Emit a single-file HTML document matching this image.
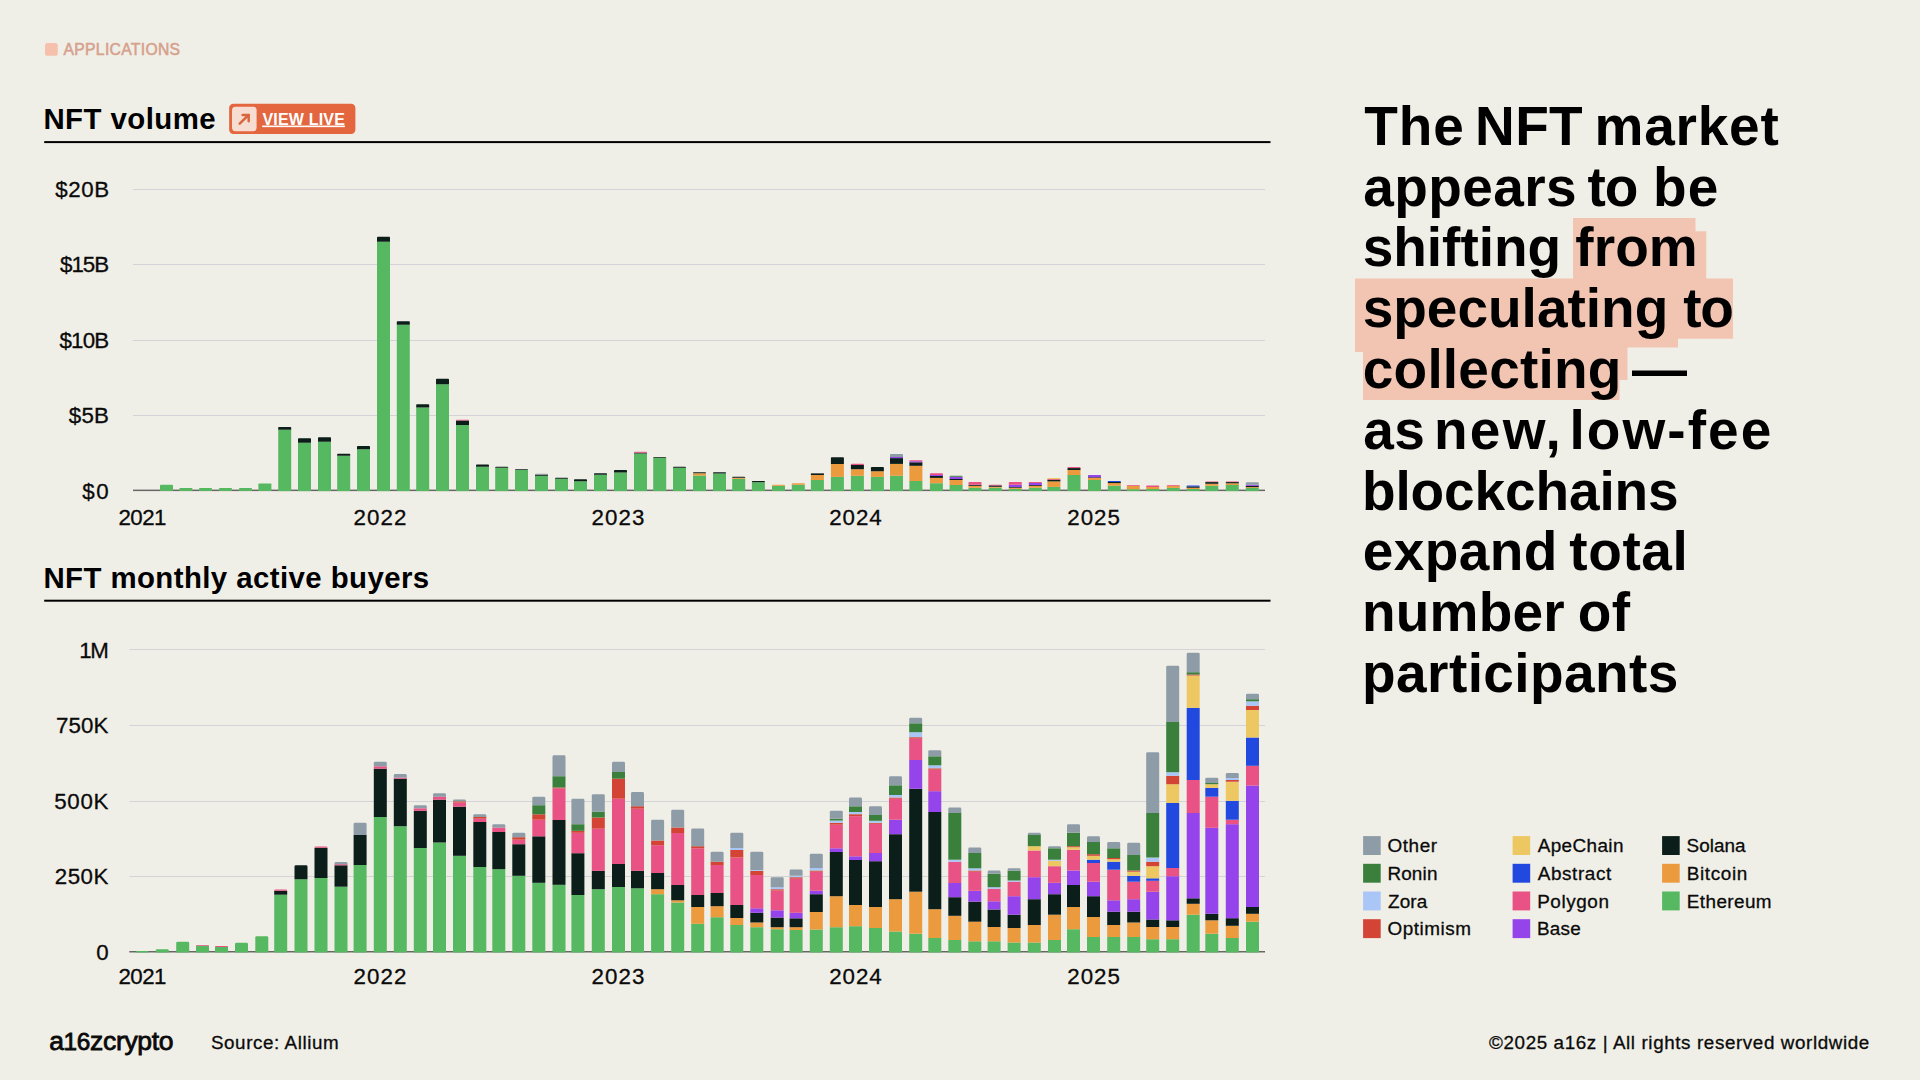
<!DOCTYPE html><html lang='en'><head><meta charset='utf-8'><title>NFT market</title><style>
html,body{margin:0;padding:0;background:#f0efe7;}
body{width:1920px;height:1080px;position:relative;overflow:hidden;font-family:"Liberation Sans",sans-serif;}
.chart{position:absolute;left:0;top:0;}
.t{position:absolute;white-space:pre;margin:0;}
</style></head><body>
<svg class='chart' width='1920' height='1080' viewBox='0 0 1920 1080'>
<path fill='#f2c5b3' d='M1573 218H1695.5V231.25H1706.25V278.5H1733V338.75H1678V347.5H1627.5V380H1619.5V400H1363V352H1355V278.5H1573Z'/>
<rect x='133' y='189' width='1132' height='1' fill='#d3d3d8'/>
<rect x='133' y='264' width='1132' height='1' fill='#d3d3d8'/>
<rect x='133' y='340' width='1132' height='1' fill='#d3d3d8'/>
<rect x='133' y='415' width='1132' height='1' fill='#d3d3d8'/>
<rect x='129.3' y='649' width='1135.7' height='1' fill='#d3d3d8'/>
<rect x='129.3' y='725' width='1135.7' height='1' fill='#d3d3d8'/>
<rect x='129.3' y='801' width='1135.7' height='1' fill='#d3d3d8'/>
<rect x='129.3' y='876' width='1135.7' height='1' fill='#d3d3d8'/>
<rect x='133' y='489.6' width='1132' height='1.5' fill='#6a6668'/>
<rect x='129.3' y='951.0' width='1135.7' height='1.5' fill='#6a6668'/>
<g id='bars-top'><path d='M160.00 491.10V485.50Q160.00 484.70 160.80 484.70H172.20Q173.00 484.70 173.00 485.50V491.10Z' fill='#57b862'/>
<path d='M179.40 491.10V488.80Q179.40 488.00 180.20 488.00H191.60Q192.40 488.00 192.40 488.80V491.10Z' fill='#57b862'/>
<path d='M199.00 491.10V488.80Q199.00 488.00 199.80 488.00H211.20Q212.00 488.00 212.00 488.80V491.10Z' fill='#57b862'/>
<path d='M219.00 491.10V488.80Q219.00 488.00 219.80 488.00H231.20Q232.00 488.00 232.00 488.80V491.10Z' fill='#57b862'/>
<path d='M239.00 491.10V488.80Q239.00 488.00 239.80 488.00H251.20Q252.00 488.00 252.00 488.80V491.10Z' fill='#57b862'/>
<path d='M258.40 491.10V484.30Q258.40 483.50 259.20 483.50H270.60Q271.40 483.50 271.40 484.30V491.10Z' fill='#57b862'/>
<rect x='278.20' y='429.70' width='13' height='61.40' fill='#57b862'/>
<path d='M278.20 429.70V427.80Q278.20 427.00 279.00 427.00H290.40Q291.20 427.00 291.20 427.80V429.70Z' fill='#0c1e1a'/>
<rect x='298.00' y='442.70' width='13' height='48.40' fill='#57b862'/>
<path d='M298.00 442.70V439.00Q298.00 438.20 298.80 438.20H310.20Q311.00 438.20 311.00 439.00V442.70Z' fill='#0c1e1a'/>
<rect x='318.00' y='441.70' width='13' height='49.40' fill='#57b862'/>
<path d='M318.00 441.70V438.00Q318.00 437.20 318.80 437.20H330.20Q331.00 437.20 331.00 438.00V441.70Z' fill='#0c1e1a'/>
<rect x='337.20' y='455.70' width='13' height='35.40' fill='#57b862'/>
<path d='M337.20 455.70V454.50Q337.20 453.70 338.00 453.70H349.40Q350.20 453.70 350.20 454.50V455.70Z' fill='#0c1e1a'/>
<rect x='357.00' y='449.20' width='13' height='41.90' fill='#57b862'/>
<path d='M357.00 449.20V446.80Q357.00 446.00 357.80 446.00H369.20Q370.00 446.00 370.00 446.80V449.20Z' fill='#0c1e1a'/>
<rect x='377.00' y='241.80' width='13' height='249.30' fill='#57b862'/>
<path d='M377.00 241.80V237.50Q377.00 236.70 377.80 236.70H389.20Q390.00 236.70 390.00 237.50V241.80Z' fill='#0c1e1a'/>
<rect x='396.80' y='324.70' width='13' height='166.40' fill='#57b862'/>
<path d='M396.80 324.70V322.00Q396.80 321.20 397.60 321.20H409.00Q409.80 321.20 409.80 322.00V324.70Z' fill='#0c1e1a'/>
<rect x='416.20' y='407.50' width='13' height='83.60' fill='#57b862'/>
<path d='M416.20 407.50V405.00Q416.20 404.20 417.00 404.20H428.40Q429.20 404.20 429.20 405.00V407.50Z' fill='#0c1e1a'/>
<rect x='436.00' y='384.20' width='13' height='106.90' fill='#57b862'/>
<path d='M436.00 384.20V379.50Q436.00 378.70 436.80 378.70H448.20Q449.00 378.70 449.00 379.50V384.20Z' fill='#0c1e1a'/>
<rect x='456.00' y='425.00' width='13' height='66.10' fill='#57b862'/>
<rect x='456.00' y='420.50' width='13' height='4.50' fill='#0c1e1a'/>
<path d='M456.00 420.50V420.50Q456.00 419.70 456.80 419.70H468.20Q469.00 419.70 469.00 420.50V420.50Z' fill='#e85285'/>
<rect x='476.00' y='466.80' width='13' height='24.30' fill='#57b862'/>
<path d='M476.00 466.80V465.30Q476.00 464.50 476.80 464.50H488.20Q489.00 464.50 489.00 465.30V466.80Z' fill='#0c1e1a'/>
<rect x='495.20' y='467.80' width='13' height='23.30' fill='#57b862'/>
<path d='M495.20 467.80V467.60Q495.20 466.80 496.00 466.80H507.40Q508.20 466.80 508.20 467.60V467.80Z' fill='#0c1e1a'/>
<rect x='515.00' y='470.00' width='13' height='21.10' fill='#57b862'/>
<path d='M515.00 470.00V470.00Q515.00 469.20 515.80 469.20H527.20Q528.00 469.20 528.00 470.00V470.00Z' fill='#0c1e1a'/>
<rect x='535.00' y='475.80' width='13' height='15.30' fill='#57b862'/>
<rect x='535.00' y='474.60' width='13' height='1.20' fill='#0c1e1a'/>
<path d='M535.00 474.60V474.60Q535.00 473.80 535.80 473.80H547.20Q548.00 473.80 548.00 474.60V474.60Z' fill='#8d9ca6'/>
<rect x='555.00' y='478.70' width='13' height='12.40' fill='#57b862'/>
<path d='M555.00 478.70V478.60Q555.00 477.80 555.80 477.80H567.20Q568.00 477.80 568.00 478.60V478.70Z' fill='#0c1e1a'/>
<rect x='574.00' y='481.20' width='13' height='9.90' fill='#57b862'/>
<path d='M574.00 481.20V480.00Q574.00 479.20 574.80 479.20H586.20Q587.00 479.20 587.00 480.00V481.20Z' fill='#0c1e1a'/>
<rect x='594.00' y='474.70' width='13' height='16.40' fill='#57b862'/>
<path d='M594.00 474.70V474.10Q594.00 473.30 594.80 473.30H606.20Q607.00 473.30 607.00 474.10V474.70Z' fill='#0c1e1a'/>
<rect x='614.00' y='472.50' width='13' height='18.60' fill='#57b862'/>
<path d='M614.00 472.50V470.80Q614.00 470.00 614.80 470.00H626.20Q627.00 470.00 627.00 470.80V472.50Z' fill='#0c1e1a'/>
<rect x='634.00' y='453.50' width='13' height='37.60' fill='#57b862'/>
<rect x='634.00' y='452.70' width='13' height='0.80' fill='#0c1e1a'/>
<path d='M634.00 452.70V452.50Q634.00 451.70 634.80 451.70H646.20Q647.00 451.70 647.00 452.50V452.70Z' fill='#e85285'/>
<rect x='653.20' y='457.80' width='13' height='33.30' fill='#57b862'/>
<path d='M653.20 457.80V457.80Q653.20 457.00 654.00 457.00H665.40Q666.20 457.00 666.20 457.80V457.80Z' fill='#0c1e1a'/>
<rect x='673.00' y='467.70' width='13' height='23.40' fill='#57b862'/>
<path d='M673.00 467.70V467.60Q673.00 466.80 673.80 466.80H685.20Q686.00 466.80 686.00 467.60V467.70Z' fill='#0c1e1a'/>
<rect x='693.00' y='475.50' width='13' height='15.60' fill='#57b862'/>
<rect x='693.00' y='473.30' width='13' height='2.20' fill='#ec9a3e'/>
<path d='M693.00 473.30V473.00Q693.00 472.20 693.80 472.20H705.20Q706.00 472.20 706.00 473.00V473.30Z' fill='#0c1e1a'/>
<rect x='713.00' y='473.50' width='13' height='17.60' fill='#57b862'/>
<path d='M713.00 473.50V473.00Q713.00 472.20 713.80 472.20H725.20Q726.00 472.20 726.00 473.00V473.50Z' fill='#0c1e1a'/>
<rect x='732.20' y='478.80' width='13' height='12.30' fill='#57b862'/>
<rect x='732.20' y='477.70' width='13' height='1.10' fill='#ec9a3e'/>
<path d='M732.20 477.70V477.60Q732.20 476.80 733.00 476.80H744.40Q745.20 476.80 745.20 477.60V477.70Z' fill='#0c1e1a'/>
<rect x='751.90' y='482.30' width='13' height='8.80' fill='#57b862'/>
<path d='M751.90 482.30V481.80Q751.90 481.00 752.70 481.00H764.10Q764.90 481.00 764.90 481.80V482.30Z' fill='#0c1e1a'/>
<rect x='772.00' y='485.70' width='13' height='5.40' fill='#57b862'/>
<path d='M772.00 485.70V485.50Q772.00 484.70 772.80 484.70H784.20Q785.00 484.70 785.00 485.50V485.70Z' fill='#ec9a3e'/>
<rect x='791.80' y='484.70' width='13' height='6.40' fill='#57b862'/>
<path d='M791.80 484.70V484.10Q791.80 483.30 792.60 483.30H804.00Q804.80 483.30 804.80 484.10V484.70Z' fill='#ec9a3e'/>
<rect x='810.90' y='480.00' width='13' height='11.10' fill='#57b862'/>
<rect x='810.90' y='475.00' width='13' height='5.00' fill='#ec9a3e'/>
<rect x='810.90' y='473.30' width='13' height='1.70' fill='#0c1e1a'/>
<path d='M810.90 473.30V473.30Q810.90 472.90 811.30 472.90H823.50Q823.90 472.90 823.90 473.30V473.30Z' fill='#8d9ca6'/>
<rect x='830.90' y='476.90' width='13' height='14.20' fill='#57b862'/>
<rect x='830.90' y='463.90' width='13' height='13.00' fill='#ec9a3e'/>
<path d='M830.90 463.90V458.10Q830.90 457.30 831.70 457.30H843.10Q843.90 457.30 843.90 458.10V463.90Z' fill='#0c1e1a'/>
<rect x='850.90' y='475.80' width='13' height='15.30' fill='#57b862'/>
<rect x='850.90' y='469.20' width='13' height='6.60' fill='#ec9a3e'/>
<rect x='850.90' y='465.00' width='13' height='4.20' fill='#0c1e1a'/>
<path d='M850.90 465.00V464.55Q850.90 463.75 851.70 463.75H863.10Q863.90 463.75 863.90 464.55V465.00Z' fill='#e85285'/>
<rect x='870.90' y='476.90' width='13' height='14.20' fill='#57b862'/>
<rect x='870.90' y='471.25' width='13' height='5.65' fill='#ec9a3e'/>
<path d='M870.90 471.25V467.90Q870.90 467.10 871.70 467.10H883.10Q883.90 467.10 883.90 467.90V471.25Z' fill='#0c1e1a'/>
<rect x='890.00' y='475.80' width='13' height='15.30' fill='#57b862'/>
<rect x='890.00' y='463.90' width='13' height='11.90' fill='#ec9a3e'/>
<rect x='890.00' y='458.10' width='13' height='5.80' fill='#0c1e1a'/>
<rect x='890.00' y='456.90' width='13' height='1.20' fill='#9444ea'/>
<path d='M890.00 456.90V454.80Q890.00 454.00 890.80 454.00H902.20Q903.00 454.00 903.00 454.80V456.90Z' fill='#8d9ca6'/>
<rect x='909.40' y='481.00' width='13' height='10.10' fill='#57b862'/>
<rect x='909.40' y='465.80' width='13' height='15.20' fill='#ec9a3e'/>
<rect x='909.40' y='462.30' width='13' height='3.50' fill='#0c1e1a'/>
<rect x='909.40' y='461.25' width='13' height='1.05' fill='#9444ea'/>
<path d='M909.40 461.25V461.05Q909.40 460.25 910.20 460.25H921.60Q922.40 460.25 922.40 461.05V461.25Z' fill='#e85285'/>
<rect x='929.90' y='483.20' width='13' height='7.90' fill='#57b862'/>
<rect x='929.90' y='477.90' width='13' height='5.30' fill='#ec9a3e'/>
<rect x='929.90' y='476.00' width='13' height='1.90' fill='#0c1e1a'/>
<rect x='929.90' y='475.00' width='13' height='1.00' fill='#9444ea'/>
<path d='M929.90 475.00V474.10Q929.90 473.30 930.70 473.30H942.10Q942.90 473.30 942.90 474.10V475.00Z' fill='#e85285'/>
<rect x='949.60' y='485.00' width='13' height='6.10' fill='#57b862'/>
<rect x='949.60' y='480.00' width='13' height='5.00' fill='#ec9a3e'/>
<rect x='949.60' y='479.00' width='13' height='1.00' fill='#0c1e1a'/>
<rect x='949.60' y='476.80' width='13' height='2.20' fill='#9444ea'/>
<path d='M949.60 476.80V476.60Q949.60 475.80 950.40 475.80H961.80Q962.60 475.80 962.60 476.60V476.80Z' fill='#3a803c'/>
<rect x='968.50' y='487.75' width='13' height='3.35' fill='#57b862'/>
<rect x='968.50' y='485.80' width='13' height='1.95' fill='#ec9a3e'/>
<rect x='968.50' y='484.80' width='13' height='1.00' fill='#0c1e1a'/>
<path d='M968.50 484.80V482.70Q968.50 481.90 969.30 481.90H980.70Q981.50 481.90 981.50 482.70V484.80Z' fill='#e85285'/>
<rect x='988.80' y='487.75' width='13' height='3.35' fill='#57b862'/>
<rect x='988.80' y='486.80' width='13' height='0.95' fill='#ec9a3e'/>
<rect x='988.80' y='485.40' width='13' height='1.40' fill='#0c1e1a'/>
<path d='M988.80 485.40V485.40Q988.80 484.75 989.45 484.75H1001.15Q1001.80 484.75 1001.80 485.40V485.40Z' fill='#e85285'/>
<rect x='1008.80' y='488.90' width='13' height='2.20' fill='#57b862'/>
<rect x='1008.80' y='487.70' width='13' height='1.20' fill='#ec9a3e'/>
<rect x='1008.80' y='487.00' width='13' height='0.70' fill='#0c1e1a'/>
<rect x='1008.80' y='484.75' width='13' height='2.25' fill='#9444ea'/>
<path d='M1008.80 484.75V482.70Q1008.80 481.90 1009.60 481.90H1021.00Q1021.80 481.90 1021.80 482.70V484.75Z' fill='#e85285'/>
<rect x='1028.80' y='487.75' width='13' height='3.35' fill='#57b862'/>
<rect x='1028.80' y='485.80' width='13' height='1.95' fill='#ec9a3e'/>
<rect x='1028.80' y='485.00' width='13' height='0.80' fill='#0c1e1a'/>
<rect x='1028.80' y='482.90' width='13' height='2.10' fill='#9444ea'/>
<path d='M1028.80 482.90V482.70Q1028.80 481.90 1029.60 481.90H1041.00Q1041.80 481.90 1041.80 482.70V482.90Z' fill='#e85285'/>
<rect x='1047.40' y='486.90' width='13' height='4.20' fill='#57b862'/>
<rect x='1047.40' y='481.40' width='13' height='5.50' fill='#ec9a3e'/>
<rect x='1047.40' y='479.80' width='13' height='1.60' fill='#0c1e1a'/>
<rect x='1047.40' y='479.00' width='13' height='0.80' fill='#e85285'/>
<path d='M1047.40 479.00V478.70Q1047.40 477.90 1048.20 477.90H1059.60Q1060.40 477.90 1060.40 478.70V479.00Z' fill='#edc862'/>
<rect x='1067.50' y='475.00' width='13' height='16.10' fill='#57b862'/>
<rect x='1067.50' y='470.00' width='13' height='5.00' fill='#ec9a3e'/>
<rect x='1067.50' y='468.10' width='13' height='1.90' fill='#0c1e1a'/>
<path d='M1067.50 468.10V467.90Q1067.50 467.10 1068.30 467.10H1079.70Q1080.50 467.10 1080.50 467.90V468.10Z' fill='#e85285'/>
<rect x='1088.00' y='480.00' width='13' height='11.10' fill='#57b862'/>
<rect x='1088.00' y='477.90' width='13' height='2.10' fill='#ec9a3e'/>
<rect x='1088.00' y='477.25' width='13' height='0.65' fill='#0c1e1a'/>
<path d='M1088.00 477.25V475.80Q1088.00 475.00 1088.80 475.00H1100.20Q1101.00 475.00 1101.00 475.80V477.25Z' fill='#9444ea'/>
<rect x='1107.80' y='485.70' width='13' height='5.40' fill='#57b862'/>
<rect x='1107.80' y='483.10' width='13' height='2.60' fill='#ec9a3e'/>
<rect x='1107.80' y='481.90' width='13' height='1.20' fill='#0c1e1a'/>
<path d='M1107.80 481.90V481.80Q1107.80 481.00 1108.60 481.00H1120.00Q1120.80 481.00 1120.80 481.80V481.90Z' fill='#2149df'/>
<rect x='1126.80' y='489.20' width='13' height='1.90' fill='#57b862'/>
<rect x='1126.80' y='485.80' width='13' height='3.40' fill='#ec9a3e'/>
<path d='M1126.80 485.80V485.80Q1126.80 485.00 1127.60 485.00H1139.00Q1139.80 485.00 1139.80 485.80V485.80Z' fill='#e85285'/>
<rect x='1146.20' y='489.00' width='13' height='2.10' fill='#57b862'/>
<rect x='1146.20' y='486.90' width='13' height='2.10' fill='#ec9a3e'/>
<path d='M1146.20 486.90V486.20Q1146.20 485.40 1147.00 485.40H1158.40Q1159.20 485.40 1159.20 486.20V486.90Z' fill='#e85285'/>
<rect x='1166.80' y='487.90' width='13' height='3.20' fill='#57b862'/>
<rect x='1166.80' y='485.80' width='13' height='2.10' fill='#ec9a3e'/>
<path d='M1166.80 485.80V485.80Q1166.80 485.00 1167.60 485.00H1179.00Q1179.80 485.00 1179.80 485.80V485.80Z' fill='#e85285'/>
<rect x='1186.60' y='489.00' width='13' height='2.10' fill='#57b862'/>
<rect x='1186.60' y='487.75' width='13' height='1.25' fill='#ec9a3e'/>
<rect x='1186.60' y='486.40' width='13' height='1.35' fill='#0c1e1a'/>
<path d='M1186.60 486.40V486.20Q1186.60 485.40 1187.40 485.40H1198.80Q1199.60 485.40 1199.60 486.20V486.40Z' fill='#2149df'/>
<rect x='1205.30' y='485.70' width='13' height='5.40' fill='#57b862'/>
<rect x='1205.30' y='483.75' width='13' height='1.95' fill='#ec9a3e'/>
<rect x='1205.30' y='482.10' width='13' height='1.65' fill='#0c1e1a'/>
<path d='M1205.30 482.10V482.10Q1205.30 481.40 1206.00 481.40H1217.60Q1218.30 481.40 1218.30 482.10V482.10Z' fill='#e85285'/>
<rect x='1225.80' y='485.00' width='13' height='6.10' fill='#57b862'/>
<rect x='1225.80' y='483.30' width='13' height='1.70' fill='#ec9a3e'/>
<rect x='1225.80' y='482.10' width='13' height='1.20' fill='#0c1e1a'/>
<path d='M1225.80 482.10V482.10Q1225.80 481.40 1226.50 481.40H1238.10Q1238.80 481.40 1238.80 482.10V482.10Z' fill='#e85285'/>
<rect x='1245.80' y='487.90' width='13' height='3.20' fill='#57b862'/>
<rect x='1245.80' y='487.10' width='13' height='0.80' fill='#ec9a3e'/>
<rect x='1245.80' y='485.80' width='13' height='1.30' fill='#0c1e1a'/>
<rect x='1245.80' y='484.75' width='13' height='1.05' fill='#9444ea'/>
<path d='M1245.80 484.75V483.10Q1245.80 482.30 1246.60 482.30H1258.00Q1258.80 482.30 1258.80 483.10V484.75Z' fill='#8d9ca6'/></g>
<g id='bars-bot'><path d='M135.80 952.50V952.40Q135.80 951.00 137.20 951.00H147.40Q148.80 951.00 148.80 952.40V952.50Z' fill='#57b862'/>
<path d='M155.80 952.50V950.60Q155.80 949.20 157.20 949.20H167.40Q168.80 949.20 168.80 950.60V952.50Z' fill='#57b862'/>
<path d='M176.20 952.50V943.10Q176.20 941.70 177.60 941.70H187.80Q189.20 941.70 189.20 943.10V952.50Z' fill='#57b862'/>
<rect x='196.00' y='945.80' width='13' height='6.70' fill='#57b862'/>
<path d='M196.00 945.80V945.80Q196.00 945.00 196.80 945.00H208.20Q209.00 945.00 209.00 945.80V945.80Z' fill='#e85285'/>
<rect x='215.00' y='947.00' width='13' height='5.50' fill='#57b862'/>
<path d='M215.00 947.00V947.00Q215.00 946.00 216.00 946.00H227.00Q228.00 946.00 228.00 947.00V947.00Z' fill='#e85285'/>
<path d='M235.00 952.50V944.20Q235.00 942.80 236.40 942.80H246.60Q248.00 942.80 248.00 944.20V952.50Z' fill='#57b862'/>
<path d='M255.30 952.50V937.60Q255.30 936.20 256.70 936.20H266.90Q268.30 936.20 268.30 937.60V952.50Z' fill='#57b862'/>
<rect x='274.20' y='894.70' width='13' height='57.80' fill='#57b862'/>
<rect x='274.20' y='890.80' width='13' height='3.90' fill='#0c1e1a'/>
<path d='M274.20 890.80V890.80Q274.20 889.50 275.50 889.50H285.90Q287.20 889.50 287.20 890.80V890.80Z' fill='#e85285'/>
<rect x='294.50' y='879.20' width='13' height='73.30' fill='#57b862'/>
<path d='M294.50 879.20V866.70Q294.50 865.30 295.90 865.30H306.10Q307.50 865.30 307.50 866.70V879.20Z' fill='#0c1e1a'/>
<rect x='314.50' y='878.00' width='13' height='74.50' fill='#57b862'/>
<rect x='314.50' y='847.80' width='13' height='30.20' fill='#0c1e1a'/>
<path d='M314.50 847.80V847.80Q314.50 846.50 315.80 846.50H326.20Q327.50 846.50 327.50 847.80V847.80Z' fill='#e85285'/>
<rect x='334.50' y='886.70' width='13' height='65.80' fill='#57b862'/>
<rect x='334.50' y='865.30' width='13' height='21.40' fill='#0c1e1a'/>
<rect x='334.50' y='864.20' width='13' height='1.10' fill='#e85285'/>
<path d='M334.50 864.20V863.40Q334.50 862.00 335.90 862.00H346.10Q347.50 862.00 347.50 863.40V864.20Z' fill='#8d9ca6'/>
<rect x='353.60' y='865.00' width='13' height='87.50' fill='#57b862'/>
<rect x='353.60' y='835.00' width='13' height='30.00' fill='#0c1e1a'/>
<path d='M353.60 835.00V824.20Q353.60 822.80 355.00 822.80H365.20Q366.60 822.80 366.60 824.20V835.00Z' fill='#8d9ca6'/>
<rect x='373.80' y='817.00' width='13' height='135.50' fill='#57b862'/>
<rect x='373.80' y='768.70' width='13' height='48.30' fill='#0c1e1a'/>
<rect x='373.80' y='766.30' width='13' height='2.40' fill='#e85285'/>
<path d='M373.80 766.30V763.20Q373.80 761.80 375.20 761.80H385.40Q386.80 761.80 386.80 763.20V766.30Z' fill='#8d9ca6'/>
<rect x='393.80' y='826.20' width='13' height='126.30' fill='#57b862'/>
<rect x='393.80' y='778.70' width='13' height='47.50' fill='#0c1e1a'/>
<rect x='393.80' y='777.50' width='13' height='1.20' fill='#e85285'/>
<path d='M393.80 777.50V775.40Q393.80 774.00 395.20 774.00H405.40Q406.80 774.00 406.80 775.40V777.50Z' fill='#8d9ca6'/>
<rect x='413.80' y='848.00' width='13' height='104.50' fill='#57b862'/>
<rect x='413.80' y='810.80' width='13' height='37.20' fill='#0c1e1a'/>
<rect x='413.80' y='808.30' width='13' height='2.50' fill='#e85285'/>
<path d='M413.80 808.30V806.70Q413.80 805.30 415.20 805.30H425.40Q426.80 805.30 426.80 806.70V808.30Z' fill='#8d9ca6'/>
<rect x='433.00' y='842.50' width='13' height='110.00' fill='#57b862'/>
<rect x='433.00' y='799.70' width='13' height='42.80' fill='#0c1e1a'/>
<rect x='433.00' y='796.70' width='13' height='3.00' fill='#e85285'/>
<path d='M433.00 796.70V794.60Q433.00 793.20 434.40 793.20H444.60Q446.00 793.20 446.00 794.60V796.70Z' fill='#8d9ca6'/>
<rect x='453.00' y='855.80' width='13' height='96.70' fill='#57b862'/>
<rect x='453.00' y='806.70' width='13' height='49.10' fill='#0c1e1a'/>
<rect x='453.00' y='802.50' width='13' height='4.20' fill='#e85285'/>
<rect x='453.00' y='801.30' width='13' height='1.20' fill='#d44435'/>
<path d='M453.00 801.30V800.90Q453.00 799.50 454.40 799.50H464.60Q466.00 799.50 466.00 800.90V801.30Z' fill='#8d9ca6'/>
<rect x='473.30' y='867.00' width='13' height='85.50' fill='#57b862'/>
<rect x='473.30' y='822.00' width='13' height='45.00' fill='#0c1e1a'/>
<rect x='473.30' y='818.70' width='13' height='3.30' fill='#e85285'/>
<rect x='473.30' y='817.00' width='13' height='1.70' fill='#d44435'/>
<path d='M473.30 817.00V815.60Q473.30 814.20 474.70 814.20H484.90Q486.30 814.20 486.30 815.60V817.00Z' fill='#8d9ca6'/>
<rect x='492.30' y='869.20' width='13' height='83.30' fill='#57b862'/>
<rect x='492.30' y='832.00' width='13' height='37.20' fill='#0c1e1a'/>
<rect x='492.30' y='827.50' width='13' height='4.50' fill='#e85285'/>
<path d='M492.30 827.50V825.60Q492.30 824.20 493.70 824.20H503.90Q505.30 824.20 505.30 825.60V827.50Z' fill='#8d9ca6'/>
<rect x='512.30' y='875.80' width='13' height='76.70' fill='#57b862'/>
<rect x='512.30' y='844.20' width='13' height='31.60' fill='#0c1e1a'/>
<rect x='512.30' y='839.70' width='13' height='4.50' fill='#e85285'/>
<rect x='512.30' y='837.20' width='13' height='2.50' fill='#d44435'/>
<path d='M512.30 837.20V834.20Q512.30 832.80 513.70 832.80H523.90Q525.30 832.80 525.30 834.20V837.20Z' fill='#8d9ca6'/>
<rect x='532.30' y='882.80' width='13' height='69.70' fill='#57b862'/>
<rect x='532.30' y='836.30' width='13' height='46.50' fill='#0c1e1a'/>
<rect x='532.30' y='819.70' width='13' height='16.60' fill='#e85285'/>
<rect x='532.30' y='814.30' width='13' height='5.40' fill='#d44435'/>
<rect x='532.30' y='805.20' width='13' height='9.10' fill='#3a803c'/>
<path d='M532.30 805.20V798.10Q532.30 796.70 533.70 796.70H543.90Q545.30 796.70 545.30 798.10V805.20Z' fill='#8d9ca6'/>
<rect x='552.50' y='884.80' width='13' height='67.70' fill='#57b862'/>
<rect x='552.50' y='820.00' width='13' height='64.80' fill='#0c1e1a'/>
<rect x='552.50' y='788.30' width='13' height='31.70' fill='#e85285'/>
<rect x='552.50' y='787.50' width='13' height='0.80' fill='#d44435'/>
<rect x='552.50' y='776.20' width='13' height='11.30' fill='#3a803c'/>
<path d='M552.50 776.20V756.70Q552.50 755.30 553.90 755.30H564.10Q565.50 755.30 565.50 756.70V776.20Z' fill='#8d9ca6'/>
<rect x='571.40' y='895.00' width='13' height='57.50' fill='#57b862'/>
<rect x='571.40' y='853.20' width='13' height='41.80' fill='#0c1e1a'/>
<rect x='571.40' y='832.80' width='13' height='20.40' fill='#e85285'/>
<rect x='571.40' y='830.80' width='13' height='2.00' fill='#d44435'/>
<rect x='571.40' y='824.20' width='13' height='6.60' fill='#3a803c'/>
<path d='M571.40 824.20V800.10Q571.40 798.70 572.80 798.70H583.00Q584.40 798.70 584.40 800.10V824.20Z' fill='#8d9ca6'/>
<rect x='591.80' y='889.20' width='13' height='63.30' fill='#57b862'/>
<rect x='591.80' y='870.80' width='13' height='18.40' fill='#0c1e1a'/>
<rect x='591.80' y='828.70' width='13' height='42.10' fill='#e85285'/>
<rect x='591.80' y='817.50' width='13' height='11.20' fill='#d44435'/>
<rect x='591.80' y='811.70' width='13' height='5.80' fill='#3a803c'/>
<path d='M591.80 811.70V795.60Q591.80 794.20 593.20 794.20H603.40Q604.80 794.20 604.80 795.60V811.70Z' fill='#8d9ca6'/>
<rect x='612.00' y='887.00' width='13' height='65.50' fill='#57b862'/>
<rect x='612.00' y='864.00' width='13' height='23.00' fill='#0c1e1a'/>
<rect x='612.00' y='798.70' width='13' height='65.30' fill='#e85285'/>
<rect x='612.00' y='778.70' width='13' height='20.00' fill='#d44435'/>
<rect x='612.00' y='772.00' width='13' height='6.70' fill='#3a803c'/>
<path d='M612.00 772.00V763.20Q612.00 761.80 613.40 761.80H623.60Q625.00 761.80 625.00 763.20V772.00Z' fill='#8d9ca6'/>
<rect x='631.00' y='888.30' width='13' height='64.20' fill='#57b862'/>
<rect x='631.00' y='870.80' width='13' height='17.50' fill='#0c1e1a'/>
<rect x='631.00' y='808.70' width='13' height='62.10' fill='#e85285'/>
<rect x='631.00' y='806.20' width='13' height='2.50' fill='#d44435'/>
<path d='M631.00 806.20V793.40Q631.00 792.00 632.40 792.00H642.60Q644.00 792.00 644.00 793.40V806.20Z' fill='#8d9ca6'/>
<rect x='651.10' y='894.20' width='13' height='58.30' fill='#57b862'/>
<rect x='651.10' y='889.20' width='13' height='5.00' fill='#ec9a3e'/>
<rect x='651.10' y='873.00' width='13' height='16.20' fill='#0c1e1a'/>
<rect x='651.10' y='845.20' width='13' height='27.80' fill='#e85285'/>
<rect x='651.10' y='840.50' width='13' height='4.70' fill='#d44435'/>
<path d='M651.10 840.50V821.10Q651.10 819.70 652.50 819.70H662.70Q664.10 819.70 664.10 821.10V840.50Z' fill='#8d9ca6'/>
<rect x='671.20' y='902.50' width='13' height='50.00' fill='#57b862'/>
<rect x='671.20' y='900.30' width='13' height='2.20' fill='#ec9a3e'/>
<rect x='671.20' y='885.00' width='13' height='15.30' fill='#0c1e1a'/>
<rect x='671.20' y='833.00' width='13' height='52.00' fill='#e85285'/>
<rect x='671.20' y='827.50' width='13' height='5.50' fill='#d44435'/>
<path d='M671.20 827.50V811.10Q671.20 809.70 672.60 809.70H682.80Q684.20 809.70 684.20 811.10V827.50Z' fill='#8d9ca6'/>
<rect x='691.20' y='923.80' width='13' height='28.70' fill='#57b862'/>
<rect x='691.20' y='907.00' width='13' height='16.80' fill='#ec9a3e'/>
<rect x='691.20' y='895.00' width='13' height='12.00' fill='#0c1e1a'/>
<rect x='691.20' y='848.30' width='13' height='46.70' fill='#e85285'/>
<rect x='691.20' y='846.20' width='13' height='2.10' fill='#d44435'/>
<path d='M691.20 846.20V829.90Q691.20 828.50 692.60 828.50H702.80Q704.20 828.50 704.20 829.90V846.20Z' fill='#8d9ca6'/>
<rect x='710.60' y='917.20' width='13' height='35.30' fill='#57b862'/>
<rect x='710.60' y='906.20' width='13' height='11.00' fill='#ec9a3e'/>
<rect x='710.60' y='893.00' width='13' height='13.20' fill='#0c1e1a'/>
<rect x='710.60' y='865.00' width='13' height='28.00' fill='#e85285'/>
<rect x='710.60' y='861.70' width='13' height='3.30' fill='#d44435'/>
<path d='M710.60 861.70V853.20Q710.60 851.80 712.00 851.80H722.20Q723.60 851.80 723.60 853.20V861.70Z' fill='#8d9ca6'/>
<rect x='730.30' y='925.00' width='13' height='27.50' fill='#57b862'/>
<rect x='730.30' y='918.00' width='13' height='7.00' fill='#ec9a3e'/>
<rect x='730.30' y='905.00' width='13' height='13.00' fill='#0c1e1a'/>
<rect x='730.30' y='857.50' width='13' height='47.50' fill='#e85285'/>
<rect x='730.30' y='850.00' width='13' height='7.50' fill='#d44435'/>
<rect x='730.30' y='848.00' width='13' height='2.00' fill='#a9c6f7'/>
<path d='M730.30 848.00V834.20Q730.30 832.80 731.70 832.80H741.90Q743.30 832.80 743.30 834.20V848.00Z' fill='#8d9ca6'/>
<rect x='750.30' y='927.20' width='13' height='25.30' fill='#57b862'/>
<rect x='750.30' y='922.50' width='13' height='4.70' fill='#ec9a3e'/>
<rect x='750.30' y='912.80' width='13' height='9.70' fill='#0c1e1a'/>
<rect x='750.30' y='908.30' width='13' height='4.50' fill='#9444ea'/>
<rect x='750.30' y='875.00' width='13' height='33.30' fill='#e85285'/>
<rect x='750.30' y='870.80' width='13' height='4.20' fill='#d44435'/>
<rect x='750.30' y='870.00' width='13' height='0.80' fill='#a9c6f7'/>
<path d='M750.30 870.00V853.20Q750.30 851.80 751.70 851.80H761.90Q763.30 851.80 763.30 853.20V870.00Z' fill='#8d9ca6'/>
<rect x='770.70' y='929.20' width='13' height='23.30' fill='#57b862'/>
<rect x='770.70' y='927.20' width='13' height='2.00' fill='#ec9a3e'/>
<rect x='770.70' y='917.50' width='13' height='9.70' fill='#0c1e1a'/>
<rect x='770.70' y='910.30' width='13' height='7.20' fill='#9444ea'/>
<rect x='770.70' y='890.50' width='13' height='19.80' fill='#e85285'/>
<rect x='770.70' y='889.20' width='13' height='1.30' fill='#d44435'/>
<rect x='770.70' y='887.20' width='13' height='2.00' fill='#a9c6f7'/>
<path d='M770.70 887.20V878.60Q770.70 877.20 772.10 877.20H782.30Q783.70 877.20 783.70 878.60V887.20Z' fill='#8d9ca6'/>
<rect x='789.60' y='930.00' width='13' height='22.50' fill='#57b862'/>
<rect x='789.60' y='927.20' width='13' height='2.80' fill='#ec9a3e'/>
<rect x='789.60' y='918.30' width='13' height='8.90' fill='#0c1e1a'/>
<rect x='789.60' y='912.80' width='13' height='5.50' fill='#9444ea'/>
<rect x='789.60' y='878.70' width='13' height='34.10' fill='#e85285'/>
<rect x='789.60' y='877.20' width='13' height='1.50' fill='#d44435'/>
<rect x='789.60' y='875.80' width='13' height='1.40' fill='#a9c6f7'/>
<path d='M789.60 875.80V870.90Q789.60 869.50 791.00 869.50H801.20Q802.60 869.50 802.60 870.90V875.80Z' fill='#8d9ca6'/>
<rect x='809.80' y='929.50' width='13' height='23.00' fill='#57b862'/>
<rect x='809.80' y='912.00' width='13' height='17.50' fill='#ec9a3e'/>
<rect x='809.80' y='894.20' width='13' height='17.80' fill='#0c1e1a'/>
<rect x='809.80' y='890.70' width='13' height='3.50' fill='#9444ea'/>
<rect x='809.80' y='871.70' width='13' height='19.00' fill='#e85285'/>
<rect x='809.80' y='870.50' width='13' height='1.20' fill='#d44435'/>
<rect x='809.80' y='868.00' width='13' height='2.50' fill='#a9c6f7'/>
<path d='M809.80 868.00V855.20Q809.80 853.80 811.20 853.80H821.40Q822.80 853.80 822.80 855.20V868.00Z' fill='#8d9ca6'/>
<rect x='829.80' y='927.20' width='13' height='25.30' fill='#57b862'/>
<rect x='829.80' y='896.20' width='13' height='31.00' fill='#ec9a3e'/>
<rect x='829.80' y='852.00' width='13' height='44.20' fill='#0c1e1a'/>
<rect x='829.80' y='848.30' width='13' height='3.70' fill='#9444ea'/>
<rect x='829.80' y='824.70' width='13' height='23.60' fill='#e85285'/>
<rect x='829.80' y='822.80' width='13' height='1.90' fill='#d44435'/>
<rect x='829.80' y='820.50' width='13' height='2.30' fill='#a9c6f7'/>
<rect x='829.80' y='818.80' width='13' height='1.70' fill='#3a803c'/>
<path d='M829.80 818.80V812.20Q829.80 810.80 831.20 810.80H841.40Q842.80 810.80 842.80 812.20V818.80Z' fill='#8d9ca6'/>
<rect x='849.00' y='926.20' width='13' height='26.30' fill='#57b862'/>
<rect x='849.00' y='905.00' width='13' height='21.20' fill='#ec9a3e'/>
<rect x='849.00' y='860.00' width='13' height='45.00' fill='#0c1e1a'/>
<rect x='849.00' y='856.30' width='13' height='3.70' fill='#9444ea'/>
<rect x='849.00' y='816.20' width='13' height='40.10' fill='#e85285'/>
<rect x='849.00' y='814.20' width='13' height='2.00' fill='#d44435'/>
<rect x='849.00' y='812.00' width='13' height='2.20' fill='#a9c6f7'/>
<rect x='849.00' y='806.30' width='13' height='5.70' fill='#3a803c'/>
<path d='M849.00 806.30V798.90Q849.00 797.50 850.40 797.50H860.60Q862.00 797.50 862.00 798.90V806.30Z' fill='#8d9ca6'/>
<rect x='869.00' y='928.00' width='13' height='24.50' fill='#57b862'/>
<rect x='869.00' y='907.00' width='13' height='21.00' fill='#ec9a3e'/>
<rect x='869.00' y='861.20' width='13' height='45.80' fill='#0c1e1a'/>
<rect x='869.00' y='853.00' width='13' height='8.20' fill='#9444ea'/>
<rect x='869.00' y='823.80' width='13' height='29.20' fill='#e85285'/>
<rect x='869.00' y='822.80' width='13' height='1.00' fill='#d44435'/>
<rect x='869.00' y='820.80' width='13' height='2.00' fill='#a9c6f7'/>
<rect x='869.00' y='815.00' width='13' height='5.80' fill='#3a803c'/>
<path d='M869.00 815.00V807.70Q869.00 806.30 870.40 806.30H880.60Q882.00 806.30 882.00 807.70V815.00Z' fill='#8d9ca6'/>
<rect x='889.00' y='931.50' width='13' height='21.00' fill='#57b862'/>
<rect x='889.00' y='899.20' width='13' height='32.30' fill='#ec9a3e'/>
<rect x='889.00' y='834.20' width='13' height='65.00' fill='#0c1e1a'/>
<rect x='889.00' y='819.70' width='13' height='14.50' fill='#9444ea'/>
<rect x='889.00' y='798.70' width='13' height='21.00' fill='#e85285'/>
<rect x='889.00' y='797.50' width='13' height='1.20' fill='#d44435'/>
<rect x='889.00' y='795.00' width='13' height='2.50' fill='#a9c6f7'/>
<rect x='889.00' y='785.30' width='13' height='9.70' fill='#3a803c'/>
<path d='M889.00 785.30V777.70Q889.00 776.30 890.40 776.30H900.60Q902.00 776.30 902.00 777.70V785.30Z' fill='#8d9ca6'/>
<rect x='909.20' y='933.70' width='13' height='18.80' fill='#57b862'/>
<rect x='909.20' y='891.70' width='13' height='42.00' fill='#ec9a3e'/>
<rect x='909.20' y='788.80' width='13' height='102.90' fill='#0c1e1a'/>
<rect x='909.20' y='760.00' width='13' height='28.80' fill='#9444ea'/>
<rect x='909.20' y='738.70' width='13' height='21.30' fill='#e85285'/>
<rect x='909.20' y='737.20' width='13' height='1.50' fill='#d44435'/>
<rect x='909.20' y='732.20' width='13' height='5.00' fill='#a9c6f7'/>
<rect x='909.20' y='723.30' width='13' height='8.90' fill='#3a803c'/>
<path d='M909.20 723.30V719.20Q909.20 717.80 910.60 717.80H920.80Q922.20 717.80 922.20 719.20V723.30Z' fill='#8d9ca6'/>
<rect x='928.30' y='938.00' width='13' height='14.50' fill='#57b862'/>
<rect x='928.30' y='909.20' width='13' height='28.80' fill='#ec9a3e'/>
<rect x='928.30' y='812.00' width='13' height='97.20' fill='#0c1e1a'/>
<rect x='928.30' y='791.20' width='13' height='20.80' fill='#9444ea'/>
<rect x='928.30' y='769.70' width='13' height='21.50' fill='#e85285'/>
<rect x='928.30' y='768.30' width='13' height='1.40' fill='#d44435'/>
<rect x='928.30' y='765.30' width='13' height='3.00' fill='#a9c6f7'/>
<rect x='928.30' y='756.30' width='13' height='9.00' fill='#3a803c'/>
<path d='M928.30 756.30V751.60Q928.30 750.20 929.70 750.20H939.90Q941.30 750.20 941.30 751.60V756.30Z' fill='#8d9ca6'/>
<rect x='948.30' y='940.00' width='13' height='12.50' fill='#57b862'/>
<rect x='948.30' y='915.80' width='13' height='24.20' fill='#ec9a3e'/>
<rect x='948.30' y='897.20' width='13' height='18.60' fill='#0c1e1a'/>
<rect x='948.30' y='883.00' width='13' height='14.20' fill='#9444ea'/>
<rect x='948.30' y='861.70' width='13' height='21.30' fill='#e85285'/>
<rect x='948.30' y='859.70' width='13' height='2.00' fill='#a9c6f7'/>
<rect x='948.30' y='813.00' width='13' height='46.70' fill='#3a803c'/>
<path d='M948.30 813.00V808.90Q948.30 807.50 949.70 807.50H959.90Q961.30 807.50 961.30 808.90V813.00Z' fill='#8d9ca6'/>
<rect x='968.30' y='941.30' width='13' height='11.20' fill='#57b862'/>
<rect x='968.30' y='921.70' width='13' height='19.60' fill='#ec9a3e'/>
<rect x='968.30' y='901.70' width='13' height='20.00' fill='#0c1e1a'/>
<rect x='968.30' y='890.80' width='13' height='10.90' fill='#9444ea'/>
<rect x='968.30' y='871.70' width='13' height='19.10' fill='#e85285'/>
<rect x='968.30' y='870.50' width='13' height='1.20' fill='#d44435'/>
<rect x='968.30' y='868.30' width='13' height='2.20' fill='#a9c6f7'/>
<rect x='968.30' y='853.00' width='13' height='15.30' fill='#3a803c'/>
<path d='M968.30 853.00V848.90Q968.30 847.50 969.70 847.50H979.90Q981.30 847.50 981.30 848.90V853.00Z' fill='#8d9ca6'/>
<rect x='987.60' y='941.30' width='13' height='11.20' fill='#57b862'/>
<rect x='987.60' y='927.00' width='13' height='14.30' fill='#ec9a3e'/>
<rect x='987.60' y='909.50' width='13' height='17.50' fill='#0c1e1a'/>
<rect x='987.60' y='901.30' width='13' height='8.20' fill='#9444ea'/>
<rect x='987.60' y='888.70' width='13' height='12.60' fill='#e85285'/>
<rect x='987.60' y='887.20' width='13' height='1.50' fill='#a9c6f7'/>
<rect x='987.60' y='873.80' width='13' height='13.40' fill='#3a803c'/>
<path d='M987.60 873.80V871.90Q987.60 870.50 989.00 870.50H999.20Q1000.60 870.50 1000.60 871.90V873.80Z' fill='#8d9ca6'/>
<rect x='1007.60' y='942.50' width='13' height='10.00' fill='#57b862'/>
<rect x='1007.60' y='928.00' width='13' height='14.50' fill='#ec9a3e'/>
<rect x='1007.60' y='914.70' width='13' height='13.30' fill='#0c1e1a'/>
<rect x='1007.60' y='896.20' width='13' height='18.50' fill='#9444ea'/>
<rect x='1007.60' y='881.70' width='13' height='14.50' fill='#e85285'/>
<rect x='1007.60' y='880.50' width='13' height='1.20' fill='#a9c6f7'/>
<rect x='1007.60' y='870.80' width='13' height='9.70' fill='#3a803c'/>
<path d='M1007.60 870.80V869.70Q1007.60 868.30 1009.00 868.30H1019.20Q1020.60 868.30 1020.60 869.70V870.80Z' fill='#8d9ca6'/>
<rect x='1027.80' y='942.50' width='13' height='10.00' fill='#57b862'/>
<rect x='1027.80' y='925.00' width='13' height='17.50' fill='#ec9a3e'/>
<rect x='1027.80' y='899.20' width='13' height='25.80' fill='#0c1e1a'/>
<rect x='1027.80' y='877.20' width='13' height='22.00' fill='#9444ea'/>
<rect x='1027.80' y='850.50' width='13' height='26.70' fill='#e85285'/>
<rect x='1027.80' y='846.20' width='13' height='4.30' fill='#edc862'/>
<rect x='1027.80' y='835.00' width='13' height='11.20' fill='#3a803c'/>
<path d='M1027.80 835.00V834.20Q1027.80 832.80 1029.20 832.80H1039.40Q1040.80 832.80 1040.80 834.20V835.00Z' fill='#8d9ca6'/>
<rect x='1048.00' y='940.00' width='13' height='12.50' fill='#57b862'/>
<rect x='1048.00' y='914.70' width='13' height='25.30' fill='#ec9a3e'/>
<rect x='1048.00' y='894.20' width='13' height='20.50' fill='#0c1e1a'/>
<rect x='1048.00' y='882.80' width='13' height='11.40' fill='#9444ea'/>
<rect x='1048.00' y='866.20' width='13' height='16.60' fill='#e85285'/>
<rect x='1048.00' y='860.80' width='13' height='5.40' fill='#edc862'/>
<rect x='1048.00' y='859.70' width='13' height='1.10' fill='#a9c6f7'/>
<rect x='1048.00' y='848.30' width='13' height='11.40' fill='#3a803c'/>
<path d='M1048.00 848.30V847.60Q1048.00 846.20 1049.40 846.20H1059.60Q1061.00 846.20 1061.00 847.60V848.30Z' fill='#8d9ca6'/>
<rect x='1067.00' y='929.20' width='13' height='23.30' fill='#57b862'/>
<rect x='1067.00' y='907.00' width='13' height='22.20' fill='#ec9a3e'/>
<rect x='1067.00' y='885.00' width='13' height='22.00' fill='#0c1e1a'/>
<rect x='1067.00' y='870.50' width='13' height='14.50' fill='#9444ea'/>
<rect x='1067.00' y='849.70' width='13' height='20.80' fill='#e85285'/>
<rect x='1067.00' y='847.20' width='13' height='2.50' fill='#edc862'/>
<rect x='1067.00' y='846.20' width='13' height='1.00' fill='#d44435'/>
<rect x='1067.00' y='832.80' width='13' height='13.40' fill='#3a803c'/>
<path d='M1067.00 832.80V825.60Q1067.00 824.20 1068.40 824.20H1078.60Q1080.00 824.20 1080.00 825.60V832.80Z' fill='#8d9ca6'/>
<rect x='1087.00' y='937.00' width='13' height='15.50' fill='#57b862'/>
<rect x='1087.00' y='917.00' width='13' height='20.00' fill='#ec9a3e'/>
<rect x='1087.00' y='896.20' width='13' height='20.80' fill='#0c1e1a'/>
<rect x='1087.00' y='881.70' width='13' height='14.50' fill='#9444ea'/>
<rect x='1087.00' y='863.00' width='13' height='18.70' fill='#e85285'/>
<rect x='1087.00' y='859.70' width='13' height='3.30' fill='#2149df'/>
<rect x='1087.00' y='855.80' width='13' height='3.90' fill='#edc862'/>
<rect x='1087.00' y='854.20' width='13' height='1.60' fill='#d44435'/>
<rect x='1087.00' y='842.00' width='13' height='12.20' fill='#3a803c'/>
<path d='M1087.00 842.00V837.60Q1087.00 836.20 1088.40 836.20H1098.60Q1100.00 836.20 1100.00 837.60V842.00Z' fill='#8d9ca6'/>
<rect x='1107.20' y='937.00' width='13' height='15.50' fill='#57b862'/>
<rect x='1107.20' y='925.00' width='13' height='12.00' fill='#ec9a3e'/>
<rect x='1107.20' y='911.70' width='13' height='13.30' fill='#0c1e1a'/>
<rect x='1107.20' y='900.30' width='13' height='11.40' fill='#9444ea'/>
<rect x='1107.20' y='869.70' width='13' height='30.60' fill='#e85285'/>
<rect x='1107.20' y='861.70' width='13' height='8.00' fill='#2149df'/>
<rect x='1107.20' y='859.20' width='13' height='2.50' fill='#edc862'/>
<rect x='1107.20' y='858.00' width='13' height='1.20' fill='#d44435'/>
<rect x='1107.20' y='848.30' width='13' height='9.70' fill='#3a803c'/>
<path d='M1107.20 848.30V843.40Q1107.20 842.00 1108.60 842.00H1118.80Q1120.20 842.00 1120.20 843.40V848.30Z' fill='#8d9ca6'/>
<rect x='1127.20' y='937.00' width='13' height='15.50' fill='#57b862'/>
<rect x='1127.20' y='922.50' width='13' height='14.50' fill='#ec9a3e'/>
<rect x='1127.20' y='911.70' width='13' height='10.80' fill='#0c1e1a'/>
<rect x='1127.20' y='899.20' width='13' height='12.50' fill='#9444ea'/>
<rect x='1127.20' y='881.70' width='13' height='17.50' fill='#e85285'/>
<rect x='1127.20' y='875.80' width='13' height='5.90' fill='#2149df'/>
<rect x='1127.20' y='871.70' width='13' height='4.10' fill='#edc862'/>
<rect x='1127.20' y='870.50' width='13' height='1.20' fill='#d44435'/>
<rect x='1127.20' y='855.00' width='13' height='15.50' fill='#3a803c'/>
<path d='M1127.20 855.00V844.20Q1127.20 842.80 1128.60 842.80H1138.80Q1140.20 842.80 1140.20 844.20V855.00Z' fill='#8d9ca6'/>
<rect x='1146.20' y='939.20' width='13' height='13.30' fill='#57b862'/>
<rect x='1146.20' y='927.00' width='13' height='12.20' fill='#ec9a3e'/>
<rect x='1146.20' y='919.50' width='13' height='7.50' fill='#0c1e1a'/>
<rect x='1146.20' y='891.70' width='13' height='27.80' fill='#9444ea'/>
<rect x='1146.20' y='880.80' width='13' height='10.90' fill='#e85285'/>
<rect x='1146.20' y='878.30' width='13' height='2.50' fill='#2149df'/>
<rect x='1146.20' y='866.20' width='13' height='12.10' fill='#edc862'/>
<rect x='1146.20' y='861.70' width='13' height='4.50' fill='#d44435'/>
<rect x='1146.20' y='857.50' width='13' height='4.20' fill='#a9c6f7'/>
<rect x='1146.20' y='813.00' width='13' height='44.50' fill='#3a803c'/>
<path d='M1146.20 813.00V753.60Q1146.20 752.20 1147.60 752.20H1157.80Q1159.20 752.20 1159.20 753.60V813.00Z' fill='#8d9ca6'/>
<rect x='1166.20' y='939.20' width='13' height='13.30' fill='#57b862'/>
<rect x='1166.20' y='927.00' width='13' height='12.20' fill='#ec9a3e'/>
<rect x='1166.20' y='920.30' width='13' height='6.70' fill='#0c1e1a'/>
<rect x='1166.20' y='876.20' width='13' height='44.10' fill='#9444ea'/>
<rect x='1166.20' y='868.00' width='13' height='8.20' fill='#e85285'/>
<rect x='1166.20' y='803.00' width='13' height='65.00' fill='#2149df'/>
<rect x='1166.20' y='784.20' width='13' height='18.80' fill='#edc862'/>
<rect x='1166.20' y='775.80' width='13' height='8.40' fill='#d44435'/>
<rect x='1166.20' y='772.20' width='13' height='3.60' fill='#a9c6f7'/>
<rect x='1166.20' y='722.00' width='13' height='50.20' fill='#3a803c'/>
<path d='M1166.20 722.00V667.20Q1166.20 665.80 1167.60 665.80H1177.80Q1179.20 665.80 1179.20 667.20V722.00Z' fill='#8d9ca6'/>
<rect x='1186.70' y='914.70' width='13' height='37.80' fill='#57b862'/>
<rect x='1186.70' y='903.80' width='13' height='10.90' fill='#ec9a3e'/>
<rect x='1186.70' y='898.30' width='13' height='5.50' fill='#0c1e1a'/>
<rect x='1186.70' y='813.00' width='13' height='85.30' fill='#9444ea'/>
<rect x='1186.70' y='780.00' width='13' height='33.00' fill='#e85285'/>
<rect x='1186.70' y='707.80' width='13' height='72.20' fill='#2149df'/>
<rect x='1186.70' y='675.50' width='13' height='32.30' fill='#edc862'/>
<rect x='1186.70' y='674.50' width='13' height='1.00' fill='#d44435'/>
<rect x='1186.70' y='672.20' width='13' height='2.30' fill='#3a803c'/>
<path d='M1186.70 672.20V654.10Q1186.70 652.70 1188.10 652.70H1198.30Q1199.70 652.70 1199.70 654.10V672.20Z' fill='#8d9ca6'/>
<rect x='1205.30' y='933.70' width='13' height='18.80' fill='#57b862'/>
<rect x='1205.30' y='920.30' width='13' height='13.40' fill='#ec9a3e'/>
<rect x='1205.30' y='913.80' width='13' height='6.50' fill='#0c1e1a'/>
<rect x='1205.30' y='827.80' width='13' height='86.00' fill='#9444ea'/>
<rect x='1205.30' y='796.70' width='13' height='31.10' fill='#e85285'/>
<rect x='1205.30' y='787.80' width='13' height='8.90' fill='#2149df'/>
<rect x='1205.30' y='784.20' width='13' height='3.60' fill='#edc862'/>
<rect x='1205.30' y='783.00' width='13' height='1.20' fill='#3a803c'/>
<path d='M1205.30 783.00V779.20Q1205.30 777.80 1206.70 777.80H1216.90Q1218.30 777.80 1218.30 779.20V783.00Z' fill='#8d9ca6'/>
<rect x='1225.80' y='938.00' width='13' height='14.50' fill='#57b862'/>
<rect x='1225.80' y='925.80' width='13' height='12.20' fill='#ec9a3e'/>
<rect x='1225.80' y='918.20' width='13' height='7.60' fill='#0c1e1a'/>
<rect x='1225.80' y='824.20' width='13' height='94.00' fill='#9444ea'/>
<rect x='1225.80' y='819.70' width='13' height='4.50' fill='#e85285'/>
<rect x='1225.80' y='800.80' width='13' height='18.90' fill='#2149df'/>
<rect x='1225.80' y='781.70' width='13' height='19.10' fill='#edc862'/>
<rect x='1225.80' y='780.00' width='13' height='1.70' fill='#d44435'/>
<rect x='1225.80' y='778.00' width='13' height='2.00' fill='#a9c6f7'/>
<path d='M1225.80 778.00V774.40Q1225.80 773.00 1227.20 773.00H1237.40Q1238.80 773.00 1238.80 774.40V778.00Z' fill='#8d9ca6'/>
<rect x='1246.00' y='921.70' width='13' height='30.80' fill='#57b862'/>
<rect x='1246.00' y='913.80' width='13' height='7.90' fill='#ec9a3e'/>
<rect x='1246.00' y='907.00' width='13' height='6.80' fill='#0c1e1a'/>
<rect x='1246.00' y='785.50' width='13' height='121.50' fill='#9444ea'/>
<rect x='1246.00' y='765.80' width='13' height='19.70' fill='#e85285'/>
<rect x='1246.00' y='737.50' width='13' height='28.30' fill='#2149df'/>
<rect x='1246.00' y='710.00' width='13' height='27.50' fill='#edc862'/>
<rect x='1246.00' y='705.80' width='13' height='4.20' fill='#d44435'/>
<rect x='1246.00' y='701.30' width='13' height='4.50' fill='#a9c6f7'/>
<rect x='1246.00' y='699.20' width='13' height='2.10' fill='#3a803c'/>
<path d='M1246.00 699.20V695.10Q1246.00 693.70 1247.40 693.70H1257.60Q1259.00 693.70 1259.00 695.10V699.20Z' fill='#8d9ca6'/></g>
<rect x='44.2' y='141.1' width='1226.3' height='2' fill='#000'/>
<rect x='44.2' y='599.7' width='1226.3' height='2' fill='#000'/>
<rect x='1363.10' y='836.10' width='17.6' height='18.9' fill='#8d9ca6'/>
<rect x='1363.10' y='863.80' width='17.6' height='18.9' fill='#3a803c'/>
<rect x='1363.10' y='891.50' width='17.6' height='18.9' fill='#a9c6f7'/>
<rect x='1363.10' y='919.20' width='17.6' height='18.9' fill='#d44435'/>
<rect x='1512.60' y='836.10' width='17.6' height='18.9' fill='#edc862'/>
<rect x='1512.60' y='863.80' width='17.6' height='18.9' fill='#2149df'/>
<rect x='1512.60' y='891.50' width='17.6' height='18.9' fill='#e85285'/>
<rect x='1512.60' y='919.20' width='17.6' height='18.9' fill='#9444ea'/>
<rect x='1662.10' y='836.10' width='17.6' height='18.9' fill='#0c1e1a'/>
<rect x='1662.10' y='863.80' width='17.6' height='18.9' fill='#ec9a3e'/>
<rect x='1662.10' y='891.50' width='17.6' height='18.9' fill='#57b862'/>
<rect x='45' y='43.0' width='12.8' height='12.8' rx='2.6' fill='#f5c1ad'/>
<rect x='229.15' y='103.7' width='126.25' height='30.2' rx='4.2' fill='#e3663f'/>
<rect x='232' y='106.7' width='24.6' height='24.5' rx='3.6' fill='#f7ddd1'/>
<path d='M239.7 123.7L248.4 115.2M242.6 114.95H248.7V121.3' fill='none' stroke='#d9663f' stroke-width='2.5' stroke-linecap='round' stroke-linejoin='miter'/>
<rect x='262.2' y='125.55' width='82.7' height='1.6' fill='#fff'/>
</svg>
<header><div class='t' id='app' style='left:63.51px;top:40.80px;line-height:18.84px;font-size:15.7px;font-weight:400;letter-spacing:0.318px;color:#d6a18d;-webkit-text-stroke:0.55px #d6a18d;'>APPLICATIONS</div></header>
<main><div class='t' id='t1' style='left:43.43px;top:100.80px;line-height:35.28px;font-size:29.4px;font-weight:700;letter-spacing:0.455px;color:#000;'>NFT volume</div>
<div class='t' id='t2' style='left:43.43px;top:559.50px;line-height:35.28px;font-size:29.4px;font-weight:700;letter-spacing:0.419px;color:#000;'>NFT monthly active buyers</div>
<div class='t' id='vl' style='left:262.45px;top:109.90px;line-height:19.2px;font-size:16.0px;font-weight:700;letter-spacing:0.194px;color:#fff;'>VIEW LIVE</div>
<div class='t' id='y$20B' style='left:55.14px;top:177.30px;line-height:26.76px;font-size:22.3px;font-weight:400;letter-spacing:0.618px;color:#0a0a0a;-webkit-text-stroke:0.3px #0a0a0a;'>$20B</div>
<div class='t' id='y$15B' style='left:60.04px;top:252.30px;line-height:26.76px;font-size:22.3px;font-weight:400;letter-spacing:-1.016px;color:#0a0a0a;-webkit-text-stroke:0.3px #0a0a0a;'>$15B</div>
<div class='t' id='y$10B' style='left:59.54px;top:328.30px;line-height:26.76px;font-size:22.3px;font-weight:400;letter-spacing:-0.849px;color:#0a0a0a;-webkit-text-stroke:0.3px #0a0a0a;'>$10B</div>
<div class='t' id='y$5B' style='left:68.84px;top:403.30px;line-height:26.76px;font-size:22.3px;font-weight:400;letter-spacing:0.245px;color:#0a0a0a;-webkit-text-stroke:0.3px #0a0a0a;'>$5B</div>
<div class='t' id='y$0' style='left:82.24px;top:478.70px;line-height:26.76px;font-size:22.3px;font-weight:400;letter-spacing:1.51px;color:#0a0a0a;-webkit-text-stroke:0.3px #0a0a0a;'>$0</div>
<div class='t' id='b1M' style='left:79.13px;top:638.20px;line-height:26.76px;font-size:22.3px;font-weight:400;letter-spacing:-1.32px;color:#0a0a0a;-webkit-text-stroke:0.3px #0a0a0a;'>1M</div>
<div class='t' id='b750K' style='left:55.96px;top:713.30px;line-height:26.76px;font-size:22.3px;font-weight:400;letter-spacing:0.095px;color:#0a0a0a;-webkit-text-stroke:0.3px #0a0a0a;'>750K</div>
<div class='t' id='b500K' style='left:54.24px;top:789.30px;line-height:26.76px;font-size:22.3px;font-weight:400;letter-spacing:0.671px;color:#0a0a0a;-webkit-text-stroke:0.3px #0a0a0a;'>500K</div>
<div class='t' id='b250K' style='left:54.72px;top:864.30px;line-height:26.76px;font-size:22.3px;font-weight:400;letter-spacing:0.509px;color:#0a0a0a;-webkit-text-stroke:0.3px #0a0a0a;'>250K</div>
<div class='t' id='b0' style='left:96.26px;top:939.80px;line-height:26.76px;font-size:22.3px;font-weight:400;letter-spacing:0.531px;color:#0a0a0a;-webkit-text-stroke:0.3px #0a0a0a;'>0</div>
<div class='t' id='xt2021' style='left:118.52px;top:504.80px;line-height:26.76px;font-size:22.3px;font-weight:400;letter-spacing:-0.55px;color:#0a0a0a;-webkit-text-stroke:0.3px #0a0a0a;'>2021</div>
<div class='t' id='xb2021' style='left:118.52px;top:964.40px;line-height:26.76px;font-size:22.3px;font-weight:400;letter-spacing:-0.55px;color:#0a0a0a;-webkit-text-stroke:0.3px #0a0a0a;'>2021</div>
<div class='t' id='xt2022' style='left:353.62px;top:504.80px;line-height:26.76px;font-size:22.3px;font-weight:400;letter-spacing:1.058px;color:#0a0a0a;-webkit-text-stroke:0.3px #0a0a0a;'>2022</div>
<div class='t' id='xb2022' style='left:353.62px;top:964.40px;line-height:26.76px;font-size:22.3px;font-weight:400;letter-spacing:1.058px;color:#0a0a0a;-webkit-text-stroke:0.3px #0a0a0a;'>2022</div>
<div class='t' id='xt2023' style='left:591.42px;top:504.80px;line-height:26.76px;font-size:22.3px;font-weight:400;letter-spacing:1.119px;color:#0a0a0a;-webkit-text-stroke:0.3px #0a0a0a;'>2023</div>
<div class='t' id='xb2023' style='left:591.42px;top:964.40px;line-height:26.76px;font-size:22.3px;font-weight:400;letter-spacing:1.119px;color:#0a0a0a;-webkit-text-stroke:0.3px #0a0a0a;'>2023</div>
<div class='t' id='xt2024' style='left:829.32px;top:504.80px;line-height:26.76px;font-size:22.3px;font-weight:400;letter-spacing:0.911px;color:#0a0a0a;-webkit-text-stroke:0.3px #0a0a0a;'>2024</div>
<div class='t' id='xb2024' style='left:829.32px;top:964.40px;line-height:26.76px;font-size:22.3px;font-weight:400;letter-spacing:0.911px;color:#0a0a0a;-webkit-text-stroke:0.3px #0a0a0a;'>2024</div>
<div class='t' id='xt2025' style='left:1067.22px;top:504.80px;line-height:26.76px;font-size:22.3px;font-weight:400;letter-spacing:1.01px;color:#0a0a0a;-webkit-text-stroke:0.3px #0a0a0a;'>2025</div>
<div class='t' id='xb2025' style='left:1067.22px;top:964.40px;line-height:26.76px;font-size:22.3px;font-weight:400;letter-spacing:1.01px;color:#0a0a0a;-webkit-text-stroke:0.3px #0a0a0a;'>2025</div></main>
<aside><div class='t' id='h0_0' style='left:1364.17px;top:92.70px;line-height:66.0px;font-size:55.0px;font-weight:700;letter-spacing:0.99px;color:#000;'>The</div>
<div class='t' id='h0_1' style='left:1475.08px;top:92.70px;line-height:66.0px;font-size:55.0px;font-weight:700;letter-spacing:0.337px;color:#000;'>NFT</div>
<div class='t' id='h0_2' style='left:1594.59px;top:92.70px;line-height:66.0px;font-size:55.0px;font-weight:700;letter-spacing:0.756px;color:#000;'>market</div>
<div class='t' id='h1_0' style='left:1363.35px;top:153.50px;line-height:66.0px;font-size:55.0px;font-weight:700;letter-spacing:0.393px;color:#000;'>appears</div>
<div class='t' id='h1_1' style='left:1587.61px;top:153.50px;line-height:66.0px;font-size:55.0px;font-weight:700;letter-spacing:-1.2px;color:#000;'>to</div>
<div class='t' id='h1_2' style='left:1653.09px;top:153.50px;line-height:66.0px;font-size:55.0px;font-weight:700;letter-spacing:1.029px;color:#000;'>be</div>
<div class='t' id='h2_0' style='left:1362.70px;top:214.30px;line-height:66.0px;font-size:55.0px;font-weight:700;letter-spacing:-0.01px;color:#000;'>shifting</div>
<div class='t' id='h2_1' style='left:1575.31px;top:214.30px;line-height:66.0px;font-size:55.0px;font-weight:700;letter-spacing:0.068px;color:#000;'>from</div>
<div class='t' id='h3_0' style='left:1362.70px;top:275.10px;line-height:66.0px;font-size:55.0px;font-weight:700;letter-spacing:-0.007px;color:#000;'>speculating</div>
<div class='t' id='h3_1' style='left:1683.18px;top:275.10px;line-height:66.0px;font-size:55.0px;font-weight:700;letter-spacing:-1.2px;color:#000;'>to</div>
<div class='t' id='h4_0' style='left:1362.80px;top:335.90px;line-height:66.0px;font-size:55.0px;font-weight:700;letter-spacing:0.203px;color:#000;'>collecting</div>
<div class='t' id='h4_1' style='left:1631.88px;top:335.90px;line-height:66.0px;font-size:55.0px;font-weight:700;letter-spacing:-1.2px;color:#000;'>—</div>
<div class='t' id='h5_0' style='left:1363.35px;top:396.70px;line-height:66.0px;font-size:55.0px;font-weight:700;letter-spacing:0.371px;color:#000;'>as</div>
<div class='t' id='h5_1' style='left:1434.07px;top:396.70px;line-height:66.0px;font-size:55.0px;font-weight:700;letter-spacing:2.2px;color:#000;'>new,</div>
<div class='t' id='h5_2' style='left:1569.40px;top:396.70px;line-height:66.0px;font-size:55.0px;font-weight:700;letter-spacing:2.082px;color:#000;'>low-fee</div>
<div class='t' id='h6_0' style='left:1361.94px;top:457.50px;line-height:66.0px;font-size:55.0px;font-weight:700;letter-spacing:-0.123px;color:#000;'>blockchains</div>
<div class='t' id='h7_0' style='left:1362.81px;top:518.30px;line-height:66.0px;font-size:55.0px;font-weight:700;letter-spacing:0.406px;color:#000;'>expand</div>
<div class='t' id='h7_1' style='left:1569.33px;top:518.30px;line-height:66.0px;font-size:55.0px;font-weight:700;letter-spacing:0.572px;color:#000;'>total</div>
<div class='t' id='h8_0' style='left:1362.04px;top:579.10px;line-height:66.0px;font-size:55.0px;font-weight:700;letter-spacing:0.18px;color:#000;'>number</div>
<div class='t' id='h8_1' style='left:1577.80px;top:579.10px;line-height:66.0px;font-size:55.0px;font-weight:700;letter-spacing:0.29px;color:#000;'>of</div>
<div class='t' id='h9_0' style='left:1362.04px;top:639.90px;line-height:66.0px;font-size:55.0px;font-weight:700;letter-spacing:0.425px;color:#000;'>participants</div>
<div class='t' id='lg00' style='left:1387.60px;top:835.30px;line-height:22.68px;font-size:18.9px;font-weight:400;letter-spacing:0.529px;color:#0a0a0a;-webkit-text-stroke:0.3px #0a0a0a;'>Other</div>
<div class='t' id='lg01' style='left:1387.40px;top:863.00px;line-height:22.68px;font-size:18.9px;font-weight:400;letter-spacing:0.16px;color:#0a0a0a;-webkit-text-stroke:0.3px #0a0a0a;'>Ronin</div>
<div class='t' id='lg02' style='left:1387.92px;top:890.80px;line-height:22.68px;font-size:18.9px;font-weight:400;letter-spacing:0.195px;color:#0a0a0a;-webkit-text-stroke:0.3px #0a0a0a;'>Zora</div>
<div class='t' id='lg03' style='left:1387.50px;top:918.40px;line-height:22.68px;font-size:18.9px;font-weight:400;letter-spacing:0.546px;color:#0a0a0a;-webkit-text-stroke:0.3px #0a0a0a;'>Optimism</div>
<div class='t' id='lg10' style='left:1537.75px;top:835.30px;line-height:22.68px;font-size:18.9px;font-weight:400;letter-spacing:0.382px;color:#0a0a0a;-webkit-text-stroke:0.3px #0a0a0a;'>ApeChain</div>
<div class='t' id='lg11' style='left:1537.75px;top:863.00px;line-height:22.68px;font-size:18.9px;font-weight:400;letter-spacing:0.597px;color:#0a0a0a;-webkit-text-stroke:0.3px #0a0a0a;'>Abstract</div>
<div class='t' id='lg12' style='left:1537.15px;top:890.80px;line-height:22.68px;font-size:18.9px;font-weight:400;letter-spacing:0.59px;color:#0a0a0a;-webkit-text-stroke:0.3px #0a0a0a;'>Polygon</div>
<div class='t' id='lg13' style='left:1536.95px;top:918.40px;line-height:22.68px;font-size:18.9px;font-weight:400;letter-spacing:0.24px;color:#0a0a0a;-webkit-text-stroke:0.3px #0a0a0a;'>Base</div>
<div class='t' id='lg20' style='left:1686.57px;top:835.30px;line-height:22.68px;font-size:18.9px;font-weight:400;letter-spacing:0.027px;color:#0a0a0a;-webkit-text-stroke:0.3px #0a0a0a;'>Solana</div>
<div class='t' id='lg21' style='left:1686.85px;top:863.00px;line-height:22.68px;font-size:18.9px;font-weight:400;letter-spacing:0.616px;color:#0a0a0a;-webkit-text-stroke:0.3px #0a0a0a;'>Bitcoin</div>
<div class='t' id='lg22' style='left:1686.85px;top:890.80px;line-height:22.68px;font-size:18.9px;font-weight:400;letter-spacing:0.401px;color:#0a0a0a;-webkit-text-stroke:0.3px #0a0a0a;'>Ethereum</div></aside>
<footer><div class='t' id='src' style='left:210.97px;top:1031.90px;line-height:22.56px;font-size:18.8px;font-weight:400;letter-spacing:0.583px;color:#0a0a0a;-webkit-text-stroke:0.3px #0a0a0a;'>Source: Allium</div>
<div class='t' id='cpy' style='left:1489.07px;top:1031.60px;line-height:22.56px;font-size:18.8px;font-weight:400;letter-spacing:0.617px;color:#0a0a0a;-webkit-text-stroke:0.3px #0a0a0a;'>©2025 a16z | All rights reserved worldwide</div>
<div class='t' id='logo' style='left:49.19px;top:1025.50px;line-height:31.8px;font-size:26.5px;font-weight:400;letter-spacing:-0.325px;color:#0a0a0a;-webkit-text-stroke:0.8px #0a0a0a;'>a<span style="font-size:.92em">16</span>zcrypto</div></footer>
</body></html>
